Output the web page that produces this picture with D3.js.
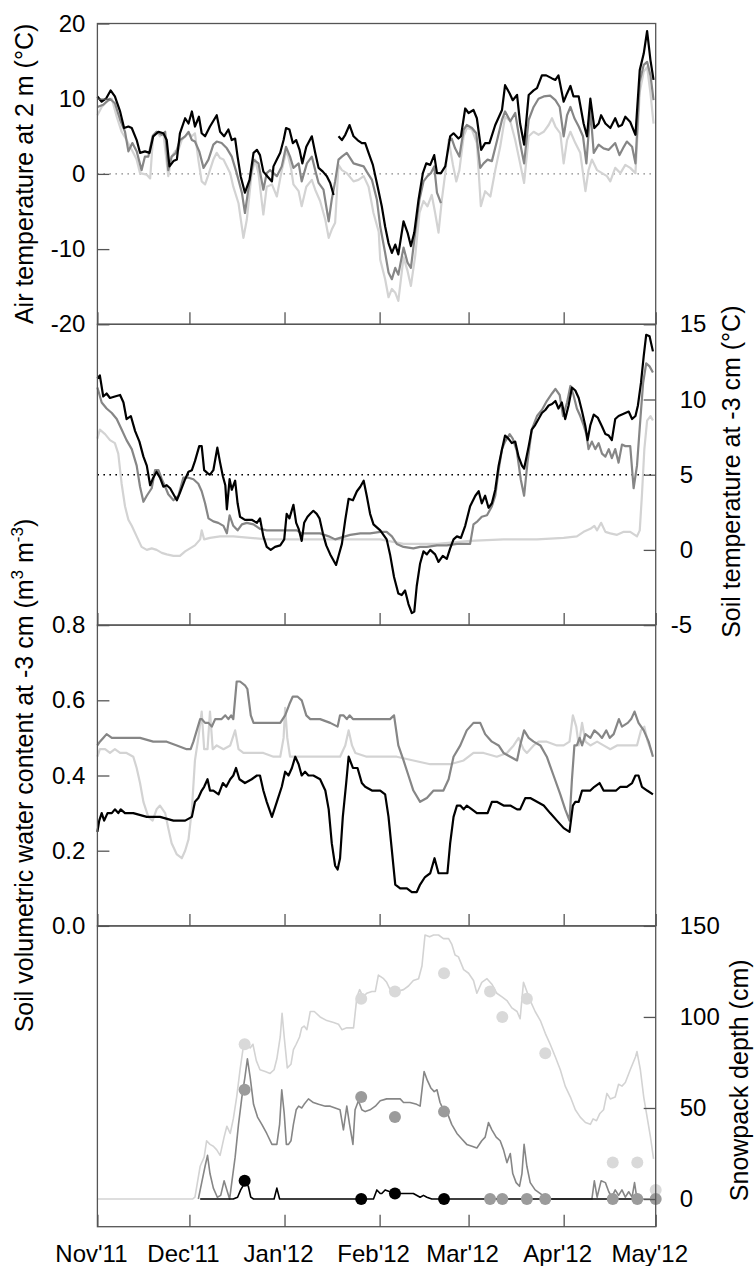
<!DOCTYPE html>
<html>
<head>
<meta charset="utf-8">
<script src="https://cdn.jsdelivr.net/npm/d3@7"></script>
<style>
  body { margin: 0; background: #fff; }
  text { font-family: "Liberation Sans", Arial, Helvetica, sans-serif; }
</style>
</head>
<body>
<div id="chart"></div>
<script>
// day offsets from 1 Nov 2011, value pairs
// three sites: low (black), mid (dark grey), high (light grey)

const monthLabels = ["Nov'11", "Dec'11", "Jan'12", "Feb'12", "Mar'12", "Apr'12", "May'12"];

// air temperature at 2 m (°C)
const airLow = [[0,10.3],[1.4,9.6],[2.8,10.0],[4.3,11.1],[5.7,10.3],[7.4,8.3],[8.7,6.1],[10.1,6.3],[11.2,6.1],[12.8,4.5],[13.9,2.8],[15.5,3.0],[17.0,2.8],[18.2,5.0],[19.9,5.6],[21.5,5.4],[22.6,4.5],[23.5,1.0],[24.8,1.7],[25.9,1.9],[26.9,5.4],[28.6,7.4],[29.7,6.7],[30.8,8.3],[31.8,6.3],[33.1,7.6],[34.0,5.4],[35.1,5.0],[36.7,6.3],[38.9,7.8],[40.0,5.6],[41.3,5.0],[42.7,5.9],[43.8,4.5],[44.9,4.7],[45.7,2.3],[46.7,-0.3],[48.1,-2.5],[49.6,-0.8],[50.9,2.8],[52.0,3.2],[53.0,2.5],[54.1,0.3],[55.8,-0.5],[56.9,-1.0],[57.4,1.0],[58.5,1.9],[59.6,2.8],[60.7,4.5],[61.5,6.1],[62.6,5.9],[63.7,4.1],[64.8,4.5],[65.9,3.2],[66.8,1.4],[68.1,3.6],[69.9,5.0],[71.0,2.8],[72.1,0.8],[73.5,0.3],[74.8,-0.3],[75.9,-1.2],[77.0,-2.8],[77.8,null],[78.6,5.0],[79.7,4.5],[80.8,5.2],[82.2,6.5],[83.5,5.0],[84.8,4.5],[86.2,4.1],[87.3,4.1],[88.4,2.8],[89.8,1.2],[91.1,-1.2],[92.7,-4.3],[93.8,-7.0],[94.9,-9.2],[96.0,-10.5],[97.1,-9.4],[98.1,-10.7],[99.8,-6.3],[101.1,-7.8],[102.2,-9.6],[103.3,-7.8],[104.7,-3.4],[106.1,0.1],[107.2,1.4],[108.5,1.2],[109.8,2.5],[110.7,0.1],[112.0,0.1],[113.4,1.0],[115.0,5.0],[116.1,5.4],[117.7,4.7],[118.5,5.0],[119.9,8.7],[121.0,8.1],[122.6,8.5],[123.7,7.4],[125.1,3.2],[126.4,4.1],[127.8,4.1],[129.7,6.5],[131.9,8.5],[132.9,11.8],[134.4,10.7],[135.4,9.8],[136.8,10.5],[137.8,6.7],[139.1,3.9],[140.6,10.5],[142.2,11.1],[143.3,11.4],[144.9,13.1],[146.3,13.1],[148.2,12.7],[149.3,12.5],[150.3,13.1],[152.0,9.6],[153.1,10.7],[154.2,11.7],[155.2,10.3],[156.9,10.3],[158.5,6.7],[159.6,5.0],[160.7,10.0],[162.0,6.1],[163.4,6.7],[164.2,7.8],[165.6,6.7],[167.2,6.1],[168.8,7.4],[169.9,6.3],[171.0,6.5],[172.1,7.6],[173.7,6.9],[175.4,5.2],[176.8,13.8],[178.1,16.0],[179.2,19.0],[180.3,15.1],[181.3,12.5]];
const airMid = [[0,8.9],[1.9,9.2],[4.1,10.0],[5.7,9.4],[7.4,7.2],[9.0,5.6],[10.1,3.0],[11.4,4.1],[12.8,3.0],[14.4,0.5],[15.5,2.3],[16.6,2.3],[18.0,5.0],[19.3,5.6],[21.0,5.2],[22.1,5.6],[23.1,0.5],[24.2,2.3],[25.6,2.8],[26.9,4.5],[28.6,5.0],[29.7,5.6],[30.8,4.5],[31.8,4.3],[33.2,3.0],[34.6,0.8],[36.2,1.9],[37.8,3.9],[38.9,4.3],[40.5,4.1],[42.2,3.4],[43.8,2.3],[45.4,0.1],[47.1,-2.5],[48.1,-5.2],[49.2,-2.1],[50.9,1.9],[52.5,1.4],[54.1,-2.1],[55.2,0.1],[56.3,0.5],[58.5,-0.3],[60.1,1.0],[61.5,3.6],[62.8,2.3],[63.9,0.8],[65.6,1.4],[66.6,-1.0],[68.3,1.4],[69.9,2.3],[71.0,0.5],[72.1,-1.2],[73.7,-2.1],[75.4,-6.3],[76.4,-3.4],[77.5,-1.0],[78.6,1.9],[79.7,2.3],[81.3,2.8],[83.5,1.4],[85.1,1.2],[86.8,1.0],[87.8,0.3],[89.5,-0.8],[91.1,-3.4],[92.2,-7.0],[93.8,-10.5],[94.9,-13.1],[96.0,-14.0],[97.1,-12.5],[98.1,-13.4],[99.8,-9.8],[101.1,-11.8],[102.2,-12.5],[103.6,-7.8],[105.0,-3.4],[106.3,-1.0],[107.6,-0.3],[108.7,0.1],[109.8,1.0],[110.7,-2.5],[112.0,-3.9],[113.2,null],[114.5,4.5],[115.5,4.7],[116.6,3.4],[118.0,2.3],[119.4,5.9],[120.4,6.5],[122.1,6.1],[123.5,5.4],[124.8,0.8],[125.9,1.4],[127.2,1.9],[128.6,1.7],[130.2,4.3],[131.9,7.2],[132.9,8.3],[134.6,7.0],[136.2,8.1],[137.8,4.1],[139.1,1.4],[140.6,7.2],[142.2,8.9],[143.8,10.0],[145.5,10.3],[147.6,10.4],[149.3,9.8],[150.7,8.9],[152.0,5.0],[153.1,7.8],[154.2,8.9],[155.5,7.4],[156.9,6.3],[158.3,5.0],[159.4,1.4],[160.7,8.5],[161.8,2.8],[163.4,3.9],[165.0,3.4],[166.7,3.2],[168.8,4.1],[170.2,2.5],[171.6,3.6],[172.6,4.3],[174.3,3.6],[175.4,1.4],[176.8,12.3],[178.1,14.5],[179.2,14.9],[180.3,13.1],[181.3,9.8]];
const airHigh = [[0,7.8],[1.4,8.9],[3.0,9.6],[4.7,10.0],[6.3,7.6],[7.9,5.6],[9.5,4.5],[11.2,3.2],[12.8,1.9],[13.9,0.1],[16.1,-0.1],[17.2,-0.6],[18.2,5.2],[19.3,5.6],[20.4,5.0],[21.5,5.4],[23.1,-0.3],[24.2,2.3],[25.3,3.0],[26.4,3.2],[27.5,4.5],[28.6,5.0],[29.7,5.4],[30.8,5.0],[31.8,5.4],[32.9,1.9],[34.0,-1.0],[35.1,-1.4],[36.2,-0.1],[37.8,1.9],[38.9,2.8],[40.0,2.1],[41.1,1.9],[43.3,0.1],[44.3,-1.7],[46.0,-3.9],[47.6,-8.5],[48.7,-6.1],[50.3,0.1],[51.4,1.9],[52.5,0.1],[54.1,-5.4],[55.2,-1.7],[56.9,-1.4],[58.5,-3.0],[60.1,0.5],[61.7,3.2],[63.1,0.8],[63.9,-1.4],[65.6,-2.3],[66.6,-4.3],[68.1,-1.7],[69.9,-0.8],[71.0,-2.1],[72.6,-3.6],[74.3,-6.1],[75.4,-8.5],[76.4,-7.4],[77.5,-6.5],[78.6,1.2],[79.7,0.5],[81.3,0.1],[83.5,-1.0],[85.1,-0.8],[86.8,-0.3],[88.4,-1.7],[90.0,-5.2],[91.7,-7.7],[92.2,-11.4],[93.8,-14.0],[94.9,-16.4],[96.0,-15.3],[97.1,-15.8],[98.1,-16.9],[99.8,-11.1],[101.1,-12.9],[102.2,-14.9],[103.6,-10.9],[105.0,-5.2],[106.3,-3.6],[107.6,-4.3],[109.0,-2.8],[110.1,-5.2],[111.2,-7.8],[112.3,-3.4],[113.4,0.1],[114.5,4.5],[115.9,1.2],[117.0,-1.0],[118.0,0.5],[119.4,5.0],[120.4,6.1],[122.1,5.9],[123.7,4.1],[125.0,-4.3],[126.4,-2.3],[128.1,-3.0],[129.7,0.5],[131.3,3.6],[132.9,7.6],[134.6,7.0],[136.2,4.5],[137.8,1.4],[139.1,-1.2],[140.6,5.0],[142.2,5.6],[143.8,5.2],[145.5,5.6],[147.1,6.5],[148.2,7.4],[149.3,6.3],[150.9,5.4],[152.0,1.4],[153.1,4.5],[154.2,5.6],[155.8,4.1],[157.4,2.8],[159.1,-2.3],[160.1,0.5],[161.2,1.9],[162.9,0.5],[164.5,0.1],[166.1,-0.3],[167.2,-1.0],[168.8,0.8],[170.5,0.1],[172.1,1.2],[173.7,0.8],[175.4,0.1],[176.8,10.9],[178.1,13.6],[179.2,14.2],[180.3,10.7],[181.3,6.7]];

// soil temperature at -3 cm (°C)
const soilLow = [[0,11.4],[0.8,11.6],[1.9,10.2],[3.0,10.4],[4.1,10.1],[5.7,10.2],[7.4,10.3],[8.5,9.8],[9.5,8.7],[10.9,8.9],[12.3,7.9],[13.7,7.2],[15.0,6.2],[16.1,5.6],[17.2,4.3],[18.2,4.8],[19.3,5.2],[20.4,4.8],[21.5,4.2],[22.6,4.3],[23.7,4.1],[24.8,3.7],[25.9,3.3],[26.9,3.8],[28.6,4.7],[29.7,5.2],[30.8,5.3],[31.8,5.9],[33.2,6.9],[34.0,6.9],[34.8,5.3],[35.9,5.1],[36.7,5.0],[37.8,5.3],[39.1,6.8],[40.0,5.8],[40.9,4.9],[41.7,4.3],[42.2,2.7],[43.1,4.7],[43.8,4.0],[44.9,4.6],[45.7,3.1],[46.5,2.2],[48.1,2.0],[50.3,2.0],[52.0,1.8],[53.0,2.1],[54.1,0.9],[55.2,0.2],[56.5,0.0],[57.9,0.2],[59.6,0.3],[60.9,0.7],[61.7,2.4],[62.6,2.1],[63.9,3.0],[64.8,1.8],[65.6,1.4],[66.6,0.6],[67.4,1.8],[68.5,2.2],[69.4,2.4],[70.4,2.6],[71.5,2.4],[72.4,2.1],[73.5,1.1],[74.6,0.3],[75.9,-0.3],[77.8,-1.0],[78.6,-0.4],[79.7,0.4],[80.8,2.0],[81.9,3.4],[83.3,3.3],[84.6,3.9],[85.7,4.2],[86.8,4.6],[87.8,3.6],[88.9,2.4],[90.0,1.7],[92.2,1.3],[94.3,0.7],[95.4,-0.3],[96.7,-1.8],[98.1,-2.9],[99.2,-3.0],[100.3,-2.7],[101.4,-3.6],[102.5,-4.2],[103.3,-4.1],[104.1,-2.4],[105.2,-0.9],[106.3,-0.1],[107.4,-0.3],[108.5,0.0],[110.1,-0.3],[111.2,-0.8],[112.6,-0.4],[113.9,-0.6],[115.0,0.1],[116.1,0.7],[117.2,0.9],[118.5,0.8],[119.9,1.6],[121.5,2.9],[123.2,3.6],[124.3,3.9],[125.3,3.1],[126.4,3.6],[127.5,2.8],[128.6,3.1],[129.7,4.0],[130.8,5.6],[131.9,6.7],[132.9,7.6],[134.0,7.4],[135.1,7.1],[136.2,7.2],[137.3,6.2],[138.4,5.6],[139.1,5.4],[140.6,6.9],[141.6,8.0],[142.7,8.3],[143.8,8.7],[144.9,9.1],[146.0,9.3],[147.1,9.6],[148.2,9.7],[149.3,9.9],[150.3,9.4],[151.4,9.8],[152.5,8.7],[153.6,9.6],[154.7,10.8],[155.8,10.6],[156.9,10.1],[158.0,9.2],[159.1,8.2],[159.8,7.3],[160.7,8.3],[161.8,9.0],[163.1,8.8],[164.5,8.2],[165.6,7.7],[166.7,7.6],[167.7,7.3],[168.8,8.7],[169.9,8.9],[171.0,9.0],[172.1,9.1],[173.2,9.2],[174.3,8.7],[175.4,8.9],[176.2,9.6],[177.2,11.1],[178.1,12.9],[178.9,14.3],[180.0,14.2],[181.1,13.2]];
const soilMid = [[0,10.8],[1.4,9.8],[3.0,9.4],[4.7,9.1],[6.3,8.7],[7.9,8.0],[9.5,7.3],[11.2,6.7],[12.8,5.6],[13.9,4.2],[15.0,3.2],[16.1,3.6],[17.7,4.1],[18.8,5.3],[19.9,5.3],[21.0,4.7],[22.1,4.2],[23.1,3.7],[24.8,3.3],[26.4,3.6],[28.0,4.8],[29.7,4.8],[31.3,4.7],[32.9,4.4],[34.0,3.9],[35.1,3.1],[36.2,2.1],[37.8,1.9],[39.4,1.8],[41.1,1.6],[42.2,1.1],[43.1,2.3],[44.3,1.6],[45.7,1.3],[47.1,1.7],[48.7,1.8],[50.9,1.7],[53.0,1.4],[55.2,1.3],[58.5,1.3],[61.7,1.3],[65.0,1.3],[66.6,1.1],[69.4,1.1],[72.6,1.1],[75.4,0.9],[77.5,0.7],[79.1,0.8],[82.4,1.0],[85.7,1.1],[88.9,1.1],[92.2,1.2],[94.3,1.2],[96.0,0.9],[97.6,0.4],[99.8,0.2],[103.0,0.1],[105.2,0.2],[107.4,0.2],[110.7,0.3],[113.9,0.3],[117.2,0.4],[121.5,0.4],[122.6,1.7],[123.9,1.9],[125.3,2.2],[127.0,2.3],[128.6,2.9],[129.7,3.6],[130.8,5.3],[131.9,6.7],[132.9,7.2],[134.4,7.7],[135.4,7.4],[136.7,6.6],[138.0,4.7],[139.1,3.6],[140.2,5.8],[141.6,8.0],[143.3,8.9],[144.9,9.3],[146.5,9.9],[148.2,10.4],[149.3,10.7],[150.7,10.3],[151.8,8.9],[153.1,9.8],[154.2,10.9],[155.2,10.3],[156.3,9.4],[157.4,8.9],[158.5,8.3],[159.4,7.7],[160.1,6.7],[161.2,7.2],[162.3,6.7],[163.4,7.1],[164.5,6.4],[165.6,6.2],[166.7,6.7],[167.7,6.1],[168.8,6.7],[169.9,5.8],[171.0,7.0],[172.1,6.9],[173.7,6.9],[174.8,4.1],[175.9,5.6],[177.0,8.7],[177.9,11.1],[178.9,12.4],[180.0,12.2],[181.1,11.8]];
const soilHigh = [[0,7.4],[0.8,8.0],[2.5,7.7],[4.1,7.3],[5.7,7.1],[6.8,6.4],[7.9,4.4],[9.0,2.9],[10.1,2.0],[11.2,1.6],[12.8,0.9],[14.4,0.2],[16.1,0.0],[17.7,0.1],[19.3,0.0],[21.0,-0.2],[22.6,-0.3],[24.8,-0.4],[26.9,-0.4],[28.6,-0.1],[30.2,0.1],[31.8,0.3],[33.5,0.7],[34.0,1.3],[34.8,0.7],[36.7,0.8],[40.0,0.9],[44.3,0.9],[49.8,0.8],[55.2,0.7],[60.7,0.7],[66.1,0.7],[71.5,0.7],[77.0,0.7],[82.4,0.7],[87.8,0.7],[92.2,0.7],[99.8,0.4],[105.2,0.4],[110.7,0.4],[121.5,0.6],[132.4,0.7],[143.3,0.7],[152.0,0.8],[156.3,0.9],[158.5,1.2],[160.7,1.4],[162.0,1.6],[162.9,1.3],[164.2,1.8],[165.6,1.2],[167.2,1.1],[169.4,1.0],[171.6,1.2],[173.7,1.2],[175.9,0.9],[176.8,1.3],[177.5,3.6],[178.3,6.7],[179.2,8.6],[180.3,8.9],[181.1,8.6]];

// soil volumetric water content at -3 cm (m3 m-3)
const vwcLow = [[0,0.25],[0.6,0.28],[1.4,0.30],[2.2,0.28],[3.3,0.30],[4.7,0.30],[5.7,0.31],[6.8,0.30],[7.6,0.31],[9.0,0.30],[11.7,0.30],[16.1,0.29],[20.4,0.29],[24.8,0.28],[28.6,0.28],[30.8,0.29],[31.8,0.33],[32.9,0.34],[34.0,0.36],[34.8,0.37],[35.9,0.39],[36.7,0.36],[37.8,0.36],[39.5,0.35],[40.9,0.38],[42.0,0.37],[43.3,0.39],[44.3,0.40],[45.2,0.42],[46.3,0.39],[48.1,0.38],[50.3,0.39],[52.0,0.40],[53.0,0.40],[54.1,0.36],[55.2,0.33],[56.9,0.29],[58.5,0.33],[60.1,0.37],[61.2,0.41],[62.3,0.40],[63.4,0.42],[64.5,0.45],[65.6,0.43],[66.6,0.40],[67.7,0.41],[68.8,0.40],[70.4,0.40],[72.6,0.39],[74.3,0.36],[75.4,0.31],[76.4,0.22],[77.5,0.16],[78.3,0.15],[79.1,0.18],[80.0,0.29],[81.1,0.38],[81.9,0.45],[83.3,0.42],[84.8,0.42],[86.2,0.38],[87.3,0.37],[89.5,0.36],[92.2,0.36],[93.8,0.35],[94.9,0.29],[96.0,0.20],[97.1,0.11],[98.7,0.10],[100.9,0.10],[102.5,0.09],[104.1,0.09],[105.2,0.11],[106.8,0.13],[108.5,0.14],[109.9,0.18],[111.2,0.14],[112.8,0.14],[114.1,0.14],[115.0,0.22],[116.1,0.29],[117.2,0.32],[118.3,0.32],[119.4,0.31],[120.4,0.32],[122.1,0.31],[123.7,0.30],[125.9,0.30],[127.2,0.30],[128.6,0.33],[130.2,0.33],[132.4,0.32],[134.6,0.32],[136.8,0.31],[137.8,0.31],[139.5,0.34],[141.1,0.34],[143.3,0.33],[145.5,0.32],[147.6,0.30],[149.8,0.28],[152.0,0.26],[153.9,0.25],[155.0,0.32],[155.8,0.33],[156.9,0.33],[158.0,0.36],[159.4,0.36],[160.7,0.36],[162.0,0.37],[163.7,0.38],[165.0,0.36],[167.2,0.36],[169.1,0.36],[170.5,0.37],[172.6,0.37],[174.3,0.38],[175.4,0.40],[176.4,0.40],[177.5,0.37],[179.2,0.36],[181.1,0.35]];
const vwcMid = [[0,0.48],[0.8,0.49],[1.9,0.50],[3.0,0.51],[4.7,0.50],[6.8,0.50],[9.5,0.50],[13.9,0.50],[18.2,0.49],[22.6,0.49],[25.9,0.48],[29.1,0.47],[30.4,0.47],[31.3,0.49],[32.4,0.52],[33.5,0.55],[34.0,0.55],[35.1,0.54],[36.2,0.54],[37.3,0.53],[38.4,0.55],[39.5,0.55],[40.5,0.55],[41.7,0.56],[42.7,0.55],[43.6,0.56],[44.3,0.55],[45.4,0.65],[46.5,0.65],[48.1,0.64],[48.9,0.63],[50.0,0.56],[50.9,0.54],[53.0,0.54],[55.2,0.54],[57.4,0.54],[59.6,0.54],[61.2,0.56],[62.6,0.59],[63.7,0.61],[65.2,0.61],[66.6,0.60],[68.1,0.56],[69.4,0.55],[72.6,0.55],[75.9,0.54],[78.3,0.53],[79.1,0.56],[80.2,0.56],[81.3,0.55],[82.2,0.56],[83.3,0.55],[85.7,0.55],[88.9,0.55],[92.2,0.55],[95.4,0.55],[96.7,0.56],[98.1,0.48],[99.8,0.44],[101.4,0.40],[103.0,0.36],[105.2,0.33],[107.4,0.34],[109.6,0.36],[111.2,0.36],[112.8,0.36],[114.5,0.39],[116.1,0.45],[118.3,0.48],[120.4,0.52],[122.6,0.54],[124.8,0.54],[126.4,0.51],[127.5,0.50],[128.6,0.49],[130.8,0.48],[132.4,0.46],[134.6,0.45],[136.8,0.44],[137.8,0.48],[139.1,0.52],[140.6,0.50],[142.2,0.49],[144.4,0.48],[146.5,0.45],[148.7,0.40],[150.9,0.35],[152.5,0.31],[153.9,0.28],[154.7,0.39],[155.5,0.48],[156.3,0.48],[157.2,0.50],[158.0,0.48],[159.1,0.51],[160.7,0.50],[162.0,0.52],[163.4,0.51],[164.5,0.50],[165.9,0.52],[167.0,0.50],[168.3,0.51],[170.0,0.55],[171.0,0.53],[172.9,0.54],[174.0,0.55],[175.1,0.57],[176.4,0.54],[178.1,0.52],[179.7,0.49],[181.1,0.45]];
const vwcHigh = [[0,0.45],[0.8,0.47],[2.5,0.47],[4.1,0.46],[5.7,0.47],[7.4,0.46],[9.5,0.46],[11.7,0.45],[12.8,0.42],[13.9,0.38],[15.0,0.33],[16.6,0.29],[18.0,0.28],[19.3,0.31],[20.4,0.32],[22.1,0.30],[23.1,0.26],[24.2,0.22],[25.9,0.19],[27.5,0.18],[28.6,0.20],[29.7,0.23],[30.8,0.31],[31.8,0.44],[32.9,0.50],[34.0,0.57],[34.8,0.47],[35.9,0.47],[36.7,0.57],[37.6,0.47],[38.9,0.48],[41.1,0.47],[43.3,0.48],[44.9,0.52],[46.0,0.47],[47.6,0.46],[50.9,0.46],[54.1,0.46],[57.4,0.45],[59.6,0.45],[60.7,0.50],[61.2,0.58],[61.9,0.50],[62.8,0.45],[66.1,0.45],[71.5,0.45],[77.0,0.45],[79.1,0.45],[80.8,0.48],[81.9,0.52],[83.0,0.48],[84.1,0.46],[87.8,0.45],[92.2,0.45],[97.6,0.45],[103.0,0.44],[108.5,0.43],[115.0,0.43],[119.4,0.44],[122.6,0.46],[125.9,0.46],[130.2,0.45],[133.5,0.46],[135.7,0.48],[137.3,0.50],[138.9,0.47],[140.0,0.46],[142.2,0.48],[143.8,0.49],[146.5,0.49],[149.8,0.48],[152.0,0.48],[153.9,0.49],[155.0,0.56],[156.1,0.53],[156.9,0.48],[158.0,0.54],[159.1,0.49],[160.7,0.48],[162.9,0.49],[165.0,0.48],[167.2,0.47],[169.4,0.48],[171.6,0.48],[173.7,0.48],[175.9,0.48],[177.2,0.52],[178.3,0.53],[179.4,0.49],[180.8,0.46]];

// snowpack depth (cm), continuous sensors
const snowLow = [[33.5,0],[44.3,0],[45.7,1],[46.7,5],[48.1,9],[49.2,7],[50.0,1],[50.9,0],[57.6,0],[58.5,6],[59.4,0],[90.0,0],[91.1,5],[92.2,3],[92.7,3],[93.8,5],[95.4,4],[97.1,4],[98.7,3],[100.9,3],[103.0,3],[105.2,1],[106.3,2],[107.4,1],[109.0,0],[175.0,0]];
const snowMid = [[32.9,0],[34.0,9],[35.1,18],[35.9,24],[36.7,14],[37.8,6],[39.1,1],[40.2,2],[41.3,10],[42.2,5],[43.1,0],[43.8,9],[44.9,23],[46.0,41],[47.1,56],[48.1,67],[48.9,77],[49.8,67],[50.9,52],[52.2,45],[53.6,41],[55.2,36],[56.9,30],[58.5,30],[59.4,41],[60.1,60],[60.9,47],[61.6,30],[62.3,30],[63.1,32],[63.9,41],[64.8,49],[65.6,51],[66.6,50],[67.4,52],[68.8,55],[70.4,53],[72.1,52],[74.3,51],[75.9,51],[77.5,50],[79.1,49],[80.2,38],[81.3,51],[82.2,41],[83.3,30],[84.0,49],[85.1,54],[86.2,49],[87.3,48],[88.9,49],[90.6,51],[92.2,54],[94.3,55],[96.5,55],[98.7,55],[99.8,53],[101.9,53],[104.1,52],[105.2,51],[106.5,70],[107.6,65],[108.7,61],[109.8,59],[110.7,60],[111.7,53],[112.8,49],[113.9,48],[115.5,41],[117.2,36],[118.8,33],[120.4,30],[122.1,29],[123.7,28],[125.3,32],[126.4,34],[127.5,42],[128.6,38],[130.0,34],[131.3,32],[132.4,27],[133.5,20],[134.6,25],[135.4,14],[136.5,9],[137.6,7],[138.4,14],[139.1,30],[140.0,18],[141.1,9],[142.7,5],[144.4,3],[146.0,1],[147.6,0],[161.2,0],[162.0,10],[162.9,1],[164.2,10],[165.6,9],[166.7,4],[167.7,1],[168.8,5],[169.9,2],[171.0,5],[172.1,1],[173.2,4],[174.3,1],[175.1,9],[175.9,0],[181.3,0]];
const snowHigh = [[0,0],[31.0,0],[31.8,1],[33.5,18],[34.8,23],[35.6,32],[36.7,30],[37.8,29],[38.9,27],[40.0,24],[41.3,34],[42.2,40],[43.3,36],[44.3,44],[45.4,56],[46.5,71],[47.6,84],[48.7,85],[49.8,83],[50.7,85],[51.8,76],[53.0,71],[54.7,70],[56.3,69],[57.6,71],[58.5,77],[59.6,89],[60.2,102],[60.9,89],[61.9,72],[63.1,74],[63.9,82],[64.8,85],[65.9,89],[66.6,94],[67.4,95],[68.3,93],[69.4,103],[70.7,103],[72.6,100],[74.8,98],[77.0,97],[78.6,96],[79.7,93],[81.3,94],[83.5,94],[84.6,111],[85.5,115],[86.6,111],[87.8,113],[89.5,114],[90.6,114],[91.6,123],[93.3,121],[94.3,119],[96.0,113],[97.6,114],[99.8,115],[101.4,117],[103.0,120],[104.7,121],[105.8,128],[106.8,145],[108.3,144],[109.6,145],[111.2,145],[112.8,143],[114.5,143],[115.5,140],[116.6,134],[117.7,133],[119.4,126],[121.0,124],[122.6,120],[123.7,113],[125.3,119],[127.0,121],[128.6,118],[130.2,113],[131.9,111],[133.5,109],[135.1,105],[136.8,103],[137.8,99],[138.9,119],[140.0,114],[141.1,109],[142.7,103],[144.4,98],[146.0,91],[147.6,85],[149.3,78],[150.9,71],[152.5,62],[154.2,56],[155.8,49],[157.4,45],[159.1,42],[160.7,41],[161.6,44],[162.7,43],[163.8,47],[165.0,49],[166.1,58],[167.2,55],[168.8,56],[169.9,63],[171.0,62],[172.1,64],[173.7,71],[175.4,78],[175.9,81],[177.0,71],[178.1,56],[179.2,45],[180.3,34],[181.3,22]];

// manual snow surveys (cm)
const surveyDays = [48, 86, 97, 113, 128, 132, 140, 146, 168, 176, 182];
const surveyHigh = [85, 110, 114, 124, 114, 100, 110, 80, 20, 20, 5];
const surveyMid = [60, 56, 45, 48, 0, 0, 0, 0, 0, 0, 0];
const surveyLow = [10, 0, 3, 0, null, null, null, null, null, null, null];

const colors = { low: '#000000', mid: '#868686', high: '#d3d3d3' };
const pointColors = { low: '#000000', mid: '#9b9b9b', high: '#d9d9d9' };

const svgWidth = 755, svgHeight = 1266;
const margin = { left: 97.4, right: 755 - 655.7, top: 23.5 };
const panelH = 300.8;
const frameColor = '#555';

const t0 = Date.UTC(2011, 10, 1);
const toDate = d => new Date(t0 + d * 864e5);

const svg = d3.select('#chart').append('svg')
    .attr('width', svgWidth)
    .attr('height', svgHeight)
    .style('display', 'block');

const x = d3.scaleUtc()
    .domain([new Date(t0), new Date(Date.UTC(2012, 4, 1))])
    .range([margin.left, svgWidth - margin.right]);

const panels = [
    { title: 'Air temperature at 2 m (°C)', side: 'left', domain: [-20, 20], ticks: [-20, -10, 0, 10, 20],
      fmt: d => String(d), series: [airHigh, airMid, airLow], ref: { v: 0, color: '#8a8a8a', w: 1.3 }, lw: 2.2,
      titleX: 33 },
    { title: 'Soil temperature at -3 cm (°C)', side: 'right', domain: [-5, 15], ticks: [-5, 0, 5, 10, 15],
      fmt: d => String(d), series: [soilHigh, soilMid, soilLow], ref: { v: 5, color: '#000', w: 1.5 }, lw: 2.2,
      titleX: 740, titleDy: -3 },
    { title: 'vwc', side: 'left', domain: [0, 0.8], ticks: [0, 0.2, 0.4, 0.6, 0.8],
      fmt: d3.format('.1f'), series: [vwcHigh, vwcMid, vwcLow], lw: 2.2,
      titleX: 33, titleDy: 0 },
    { title: 'Snowpack depth (cm)', side: 'right', domain: [-15.2, 150], ticks: [0, 50, 100, 150],
      fmt: d => String(d), series: [snowHigh, snowMid, snowLow], lw: 1.6,
      titleX: 748, titleDy: 4 }
];
const seriesColors = [colors.high, colors.mid, colors.low];

panels.forEach((p, i) => {
    const top = margin.top + i * panelH;
    const bottom = top + panelH;
    const y = d3.scaleLinear().domain(p.domain).range([bottom, top]);
    const g = svg.append('g');

    // reference line
    if (p.ref) {
        g.append('line')
            .attr('x1', x.range()[0]).attr('x2', x.range()[1])
            .attr('y1', y(p.ref.v)).attr('y2', y(p.ref.v))
            .attr('stroke', p.ref.color)
            .attr('stroke-width', p.ref.w)
            .attr('stroke-dasharray', '1.6,4.4');
    }

    const line = d3.line()
        .defined(d => d[1] != null)
        .x(d => x(toDate(d[0])))
        .y(d => y(d[1]));

    p.series.forEach((s, j) => {
        g.append('path')
            .datum(s)
            .attr('fill', 'none')
            .attr('stroke', seriesColors[j])
            .attr('stroke-width', p.lw)
            .attr('stroke-linejoin', 'round')
            .attr('d', line);
    });

    // manual snow survey points
    if (i === 3) {
        [[surveyHigh, pointColors.high], [surveyMid, pointColors.mid], [surveyLow, pointColors.low]].forEach(([vals, c]) => {
            g.selectAll(null)
                .data(surveyDays.map((d, k) => [d, vals[k]]).filter(d => d[1] != null))
                .join('circle')
                .attr('cx', d => x(toDate(d[0])))
                .attr('cy', d => y(d[1]))
                .attr('r', 6)
                .attr('fill', c);
        });
    }

    // frame
    g.append('rect')
        .attr('x', x.range()[0]).attr('y', top)
        .attr('width', x.range()[1] - x.range()[0]).attr('height', panelH)
        .attr('fill', 'none')
        .attr('stroke', frameColor)
        .attr('stroke-width', 1.3);

    // x axis, ticks pointing inward
    const xAxis = d3.axisBottom(x)
        .ticks(d3.utcMonth.every(1))
        .tickSizeInner(-12).tickSizeOuter(0)
        .tickPadding(18)
        .tickFormat(i === 3 ? ((d, k) => monthLabels[k]) : '');
    const xg = g.append('g')
        .attr('transform', `translate(0,${bottom})`)
        .call(xAxis);
    xg.select('.domain').remove();
    xg.selectAll('.tick line').attr('stroke', frameColor).attr('stroke-width', 1.3);
    xg.selectAll('text').attr('font-size', 24).attr('fill', '#000').attr('dx', -6.5)
        .style('font-family', '"Liberation Sans", Arial, sans-serif');

    // y axis, ticks pointing inward
    const isLeft = p.side === 'left';
    const yAxis = (isLeft ? d3.axisLeft(y) : d3.axisRight(y))
        .tickValues(p.ticks)
        .tickSizeInner(-12).tickSizeOuter(0)
        .tickPadding(isLeft ? 12 : 24)
        .tickFormat(p.fmt);
    const yg = g.append('g')
        .attr('transform', `translate(${isLeft ? x.range()[0] : x.range()[1]},0)`)
        .call(yAxis);
    yg.select('.domain').remove();
    yg.selectAll('.tick line').attr('stroke', frameColor).attr('stroke-width', 1.3);
    yg.selectAll('text').attr('font-size', 24).attr('fill', '#000')
        .style('font-family', '"Liberation Sans", Arial, sans-serif')
        .attr('dx', d => (!isLeft && d < 0) ? -9 : 0);

    // axis title
    const cy = (top + bottom) / 2 + (p.titleDy || 0);
    const t = svg.append('text')
        .attr('transform', `translate(${p.titleX},${cy}) rotate(-90)`)
        .attr('text-anchor', 'middle')
        .attr('font-size', 25)
        .attr('fill', '#000');
    if (p.title === 'vwc') {
        t.append('tspan').text('Soil volumetric water content at -3 cm (m');
        t.append('tspan').attr('font-size', 17).attr('dy', -10).text('3');
        t.append('tspan').attr('dy', 10).text(' m');
        t.append('tspan').attr('font-size', 17).attr('dy', -10).text('-3');
        t.append('tspan').attr('dy', 10).text(')');
    } else {
        t.text(p.title);
    }
});
</script>
</body>
</html>
